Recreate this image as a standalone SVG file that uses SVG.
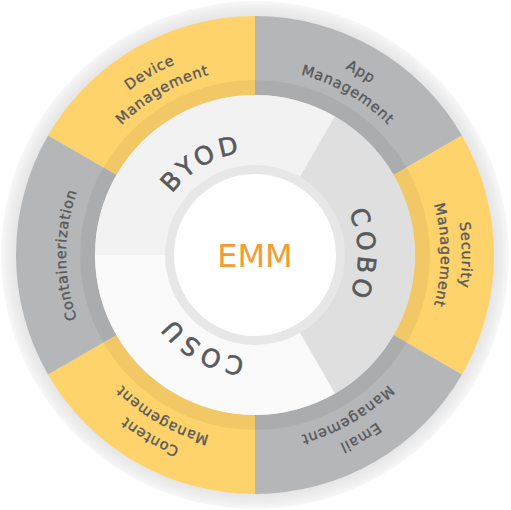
<svg xmlns="http://www.w3.org/2000/svg" xmlns:xlink="http://www.w3.org/1999/xlink" width="511" height="510" viewBox="0 0 511 510">
  <style>
    .lbl { font-family: "DejaVu Sans", "Liberation Sans", sans-serif; fill: #58595b; stroke: #58595b; stroke-width: 0.35px; font-size: 14.5px; letter-spacing: 0.7px; text-anchor: middle; }
    .big { font-family: "DejaVu Sans", "Liberation Sans", sans-serif; fill: #58595b; stroke: #58595b; stroke-width: 0.6px; font-size: 25px; letter-spacing: 4px; text-anchor: middle; }
    .yellow { fill: #fed36b; }
    .gray { fill: #b5b6b8; }
  </style>
  <defs>
    <radialGradient id="halo" gradientUnits="userSpaceOnUse" cx="255" cy="255" r="256">
      <stop offset="0.92" stop-color="#e2e2e2"/>
      <stop offset="0.965" stop-color="#eeeeee"/>
      <stop offset="1" stop-color="#fbfbfb"/>
    </radialGradient>
    <path id="arc207" d="M 48.79 236.96 A 207 207 0 0 1 461.21 236.96"/>
    <path id="arc186" d="M 69.71 238.79 A 186 186 0 0 1 440.29 238.79"/>
    <path id="arc189" d="M 66.72 238.53 A 189 189 0 0 1 443.28 238.53"/>
    <path id="arc103" d="M 152.39 246.02 A 103 103 0 0 1 357.61 246.02"/>
  </defs>

  <circle cx="255" cy="255" r="254" fill="url(#halo)"/>

  <g id="device-management">
    <path class="yellow" d="M 48.02 135.5 A 239 239 0 0 1 255 16 L 255 95 A 160 160 0 0 0 116.44 175 Z"/>
    <g transform="rotate(-30 255 255)">
      <text class="lbl"><textPath xlink:href="#arc207" href="#arc207" startOffset="50%">Device</textPath></text>
      <text class="lbl"><textPath xlink:href="#arc186" href="#arc186" startOffset="50%">Management</textPath></text>
    </g>
  </g>
  <g id="app-management">
    <path class="gray" d="M 255 16 A 239 239 0 0 1 461.98 135.5 L 393.56 175 A 160 160 0 0 0 255 95 Z"/>
    <g transform="rotate(30 255 255)">
      <text class="lbl"><textPath xlink:href="#arc207" href="#arc207" startOffset="50%">App</textPath></text>
      <text class="lbl"><textPath xlink:href="#arc186" href="#arc186" startOffset="50%">Management</textPath></text>
    </g>
  </g>
  <g id="security-management">
    <path class="yellow" d="M 461.98 135.5 A 239 239 0 0 1 461.98 374.5 L 393.56 335 A 160 160 0 0 0 393.56 175 Z"/>
    <g transform="rotate(90 255 255)">
      <text class="lbl"><textPath xlink:href="#arc207" href="#arc207" startOffset="50%">Security</textPath></text>
      <text class="lbl"><textPath xlink:href="#arc186" href="#arc186" startOffset="50%">Management</textPath></text>
    </g>
  </g>
  <g id="email-management">
    <path class="gray" d="M 461.98 374.5 A 239 239 0 0 1 255 494 L 255 415 A 160 160 0 0 0 393.56 335 Z"/>
    <g transform="rotate(150 255 255)">
      <text class="lbl"><textPath xlink:href="#arc207" href="#arc207" startOffset="50%">Email</textPath></text>
      <text class="lbl"><textPath xlink:href="#arc186" href="#arc186" startOffset="50%">Management</textPath></text>
    </g>
  </g>
  <g id="content-management">
    <path class="yellow" d="M 255 494 A 239 239 0 0 1 48.02 374.5 L 116.44 335 A 160 160 0 0 0 255 415 Z"/>
    <g transform="rotate(-150 255 255)">
      <text class="lbl"><textPath xlink:href="#arc207" href="#arc207" startOffset="50%">Content</textPath></text>
      <text class="lbl"><textPath xlink:href="#arc186" href="#arc186" startOffset="50%">Management</textPath></text>
    </g>
  </g>
  <g id="containerization">
    <path class="gray" d="M 48.02 374.5 A 239 239 0 0 1 48.02 135.5 L 116.44 175 A 160 160 0 0 0 116.44 335 Z"/>
    <g transform="rotate(-90 255 255)">
      <text class="lbl"><textPath xlink:href="#arc189" href="#arc189" startOffset="50%">Containerization</textPath></text>
    </g>
  </g>

  <!-- inner shadow band of outer ring -->
  <circle cx="255" cy="255" r="167.5" fill="none" stroke="#000000" stroke-opacity="0.05" stroke-width="15"/>

  <g id="byod">
    <path d="M 255 255 L 95 255 A 160 160 0 0 1 335 116.44 Z" fill="#f2f2f2"/>
    <g transform="rotate(-30 255 255)">
      <text class="big"><textPath xlink:href="#arc103" href="#arc103" startOffset="50%">BYOD</textPath></text>
    </g>
  </g>
  <g id="cobo">
    <path d="M 255 255 L 335 116.44 A 160 160 0 0 1 335 393.56 Z" fill="#dfdfdf"/>
    <g transform="rotate(90 255 255)">
      <text class="big"><textPath xlink:href="#arc103" href="#arc103" startOffset="50%">COBO</textPath></text>
    </g>
  </g>
  <g id="cosu">
    <path d="M 255 255 L 335 393.56 A 160 160 0 0 1 95 255 Z" fill="#fafafa"/>
    <g transform="rotate(-150 255 255)">
      <text class="big"><textPath xlink:href="#arc103" href="#arc103" startOffset="50%">COSU</textPath></text>
    </g>
  </g>

  <g id="emm">
    <circle cx="255" cy="255" r="90" fill="#e7e7e7"/>
    <circle cx="255" cy="255" r="81" fill="#ffffff"/>
    <text x="255" y="267" text-anchor="middle" font-family="DejaVu Sans, Liberation Sans, sans-serif" font-size="32" fill="#f39c33">EMM</text>
  </g>
</svg>
